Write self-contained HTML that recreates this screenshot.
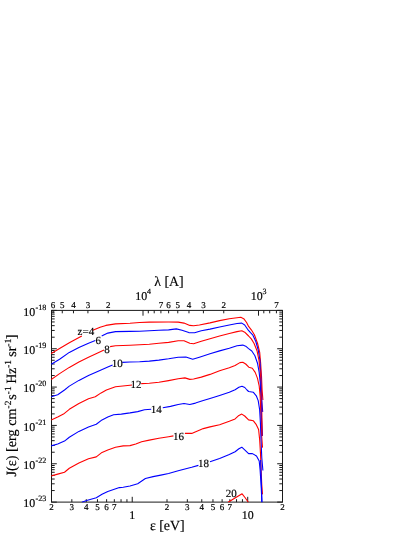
<!DOCTYPE html>
<html><head><meta charset="utf-8"><title>J(eps) spectrum</title>
<style>html,body{margin:0;padding:0;background:#fff;}body{width:415px;height:537px;position:relative;overflow:hidden;font-family:"Liberation Serif",serif;}</style>
</head><body>
<svg width="415" height="537" viewBox="0 0 415 537" style="position:absolute;left:0;top:0;font-family:'Liberation Serif',serif" text-rendering="geometricPrecision">
<rect x="0" y="0" width="415" height="537" fill="#fff"/>
<g stroke="#1a1a1a" stroke-width="1" fill="none" shape-rendering="auto">
<rect x="51.5" y="310.4" width="231.0" height="191.7"/>
<path d="M51.50,502.1v-2.9M71.84,502.1v-2.9M86.27,502.1v-2.9M97.46,502.1v-2.9M106.61,502.1v-2.9M114.34,502.1v-2.9M121.04,502.1v-2.9M126.95,502.1v-2.9M132.23,502.1v-5.3M167.00,502.1v-2.9M187.34,502.1v-2.9M201.77,502.1v-2.9M212.96,502.1v-2.9M222.11,502.1v-2.9M229.84,502.1v-2.9M236.54,502.1v-2.9M242.45,502.1v-2.9M247.73,502.1v-5.3M282.50,502.1v-2.9M276.41,310.4v2.9M269.71,310.4v2.9M263.80,310.4v2.9M258.51,310.4v5.3M223.75,310.4v2.9M203.41,310.4v2.9M188.98,310.4v2.9M177.78,310.4v2.9M168.64,310.4v2.9M160.91,310.4v2.9M154.21,310.4v2.9M148.30,310.4v2.9M143.01,310.4v5.3M108.25,310.4v2.9M87.91,310.4v2.9M73.48,310.4v2.9M62.28,310.4v2.9M53.14,310.4v2.9M51.5,502.10h5.3M282.5,502.10h-5.3M51.5,490.56h3.2M282.5,490.56h-3.2M51.5,483.81h3.2M282.5,483.81h-3.2M51.5,479.02h3.2M282.5,479.02h-3.2M51.5,475.30h3.2M282.5,475.30h-3.2M51.5,472.27h3.2M282.5,472.27h-3.2M51.5,469.70h3.2M282.5,469.70h-3.2M51.5,467.48h3.2M282.5,467.48h-3.2M51.5,465.51h3.2M282.5,465.51h-3.2M51.5,463.76h5.3M282.5,463.76h-5.3M51.5,452.22h3.2M282.5,452.22h-3.2M51.5,445.47h3.2M282.5,445.47h-3.2M51.5,440.68h3.2M282.5,440.68h-3.2M51.5,436.96h3.2M282.5,436.96h-3.2M51.5,433.93h3.2M282.5,433.93h-3.2M51.5,431.36h3.2M282.5,431.36h-3.2M51.5,429.14h3.2M282.5,429.14h-3.2M51.5,427.17h3.2M282.5,427.17h-3.2M51.5,425.42h5.3M282.5,425.42h-5.3M51.5,413.88h3.2M282.5,413.88h-3.2M51.5,407.13h3.2M282.5,407.13h-3.2M51.5,402.34h3.2M282.5,402.34h-3.2M51.5,398.62h3.2M282.5,398.62h-3.2M51.5,395.59h3.2M282.5,395.59h-3.2M51.5,393.02h3.2M282.5,393.02h-3.2M51.5,390.80h3.2M282.5,390.80h-3.2M51.5,388.83h3.2M282.5,388.83h-3.2M51.5,387.08h5.3M282.5,387.08h-5.3M51.5,375.54h3.2M282.5,375.54h-3.2M51.5,368.79h3.2M282.5,368.79h-3.2M51.5,364.00h3.2M282.5,364.00h-3.2M51.5,360.28h3.2M282.5,360.28h-3.2M51.5,357.25h3.2M282.5,357.25h-3.2M51.5,354.68h3.2M282.5,354.68h-3.2M51.5,352.46h3.2M282.5,352.46h-3.2M51.5,350.49h3.2M282.5,350.49h-3.2M51.5,348.74h5.3M282.5,348.74h-5.3M51.5,337.20h3.2M282.5,337.20h-3.2M51.5,330.45h3.2M282.5,330.45h-3.2M51.5,325.66h3.2M282.5,325.66h-3.2M51.5,321.94h3.2M282.5,321.94h-3.2M51.5,318.91h3.2M282.5,318.91h-3.2M51.5,316.34h3.2M282.5,316.34h-3.2M51.5,314.12h3.2M282.5,314.12h-3.2M51.5,312.15h3.2M282.5,312.15h-3.2M51.5,310.40h5.3M282.5,310.40h-5.3" stroke-width="1"/>
</g>
<clipPath id="c"><rect x="51.0" y="309.9" width="232.0" height="192.70000000000005"/></clipPath>
<g clip-path="url(#c)" fill="none" stroke-width="1.1" stroke-linejoin="round" stroke-linecap="butt">
<path d="M51.2,353.6 L59.6,348.5 L69.3,342.8 L81.8,336.0" stroke="#ff0000"/>
<path d="M92.8,330.2 L100.1,327.3 L105.9,325.4 L115.5,323.9 L130.0,323.3 L139.6,322.5 L149.3,322.1 L168.6,322.0 L178.2,322.1 L184.0,323.1 L189.8,325.4 L193.6,325.8 L199.4,325.0 L210.0,322.9 L219.6,320.6 L229.3,318.7 L237.0,317.7 L240.8,317.3 L243.7,318.7 L246.6,322.5 L248.6,326.4 L251.3,329.8 L254.4,334.8 L257.6,343.5 L259.7,352.3 L260.7,363.7 L261.5,376.0 L262.1,390.0 L262.9,400.0" stroke="#ff0000"/>
<path d="M51.2,364.3 L59.6,359.2 L69.3,352.4 L78.9,347.6 L88.5,343.2 L95.3,340.5" stroke="#0000ff"/>
<path d="M101.7,336.0 L107.8,333.1 L115.5,331.6 L130.0,331.4 L139.6,331.2 L149.3,330.8 L158.9,330.2 L168.6,329.9 L176.3,328.9 L182.0,330.2 L188.8,332.6 L194.6,332.7 L201.3,330.8 L210.0,329.1 L219.6,327.0 L229.3,325.0 L237.0,323.5 L241.8,323.1 L244.7,325.0 L247.6,329.3 L250.5,332.7 L252.9,335.2 L255.8,341.5 L258.3,350.3 L259.8,359.5 L260.6,371.0 L261.2,385.0 L261.8,400.0 L262.7,412.0" stroke="#0000ff"/>
<path d="M51.2,379.6 L59.6,373.6 L69.3,367.4 L78.9,362.0 L88.5,357.2 L98.2,352.8 L104.0,350.1" stroke="#ff0000"/>
<path d="M110.1,346.6 L115.5,345.7 L130.0,345.2 L139.6,344.7 L149.3,344.3 L158.9,343.2 L168.6,342.4 L178.2,340.8 L184.0,340.8 L189.8,343.3 L193.6,343.7 L201.3,341.2 L210.0,338.7 L219.6,336.0 L229.3,333.5 L237.0,331.6 L241.8,330.8 L244.7,332.2 L248.6,336.0 L251.3,338.9 L254.1,343.5 L257.0,350.7 L259.0,360.5 L260.2,371.7 L260.9,384.0 L261.5,400.0 L262.0,420.0 L262.5,436.0" stroke="#ff0000"/>
<path d="M51.2,396.7 L57.7,394.8 L64.5,390.0 L69.3,386.1 L78.9,380.4 L88.5,375.5 L98.2,371.3 L107.8,366.9 L112.6,364.9" stroke="#0000ff"/>
<path d="M122.3,362.4 L130.0,362.0 L139.6,361.7 L149.3,361.1 L158.9,360.1 L168.6,358.8 L178.2,357.2 L185.9,357.0 L192.7,359.3 L199.4,357.2 L210.0,353.7 L219.6,350.9 L229.3,348.2 L237.0,345.7 L242.8,345.1 L245.7,346.2 L248.6,348.6 L251.8,351.0 L254.9,355.7 L257.5,363.2 L259.1,371.9 L260.2,382.0 L260.8,395.0 L261.4,415.0 L262.0,436.0" stroke="#0000ff"/>
<path d="M51.2,419.9 L57.7,417.0 L63.5,414.1 L69.3,409.3 L78.9,403.5 L88.5,398.7 L95.3,396.7 L101.1,392.9 L106.4,390.0 L115.5,386.7 L130.0,385.2 L132.0,385.0" stroke="#ff0000"/>
<path d="M141.2,383.6 L149.3,383.3 L158.9,382.3 L168.6,380.6 L178.2,378.8 L184.9,377.9 L189.8,379.4 L193.6,379.0 L201.3,377.1 L210.0,374.4 L219.6,370.7 L229.3,367.8 L235.1,365.5 L239.9,362.6 L242.8,362.2 L245.7,364.0 L248.8,367.2 L252.3,368.2 L255.2,372.4 L257.5,378.4 L259.2,386.0 L260.2,397.0 L260.9,415.0 L261.6,435.0 L262.5,447.6" stroke="#ff0000"/>
<path d="M51.2,445.9 L57.7,444.0 L64.5,441.1 L69.3,437.2 L78.9,431.4 L88.5,427.0 L96.3,424.3 L102.0,419.9 L107.8,417.0 L113.6,414.7 L121.3,414.1 L130.0,412.9 L137.7,411.6 L144.5,409.7 L151.2,409.3" stroke="#0000ff"/>
<path d="M162.8,407.7 L170.5,406.4 L178.2,404.5 L184.0,403.5 L189.8,404.5 L195.5,403.1 L203.3,400.6 L210.0,398.4 L219.6,395.4 L229.3,392.3 L235.1,389.7 L238.9,387.3 L242.0,386.3 L244.8,387.5 L247.0,390.0 L248.6,391.5 L253.4,392.3 L256.3,395.8 L258.2,400.6 L259.6,409.3 L260.4,422.8 L261.0,440.0 L261.8,458.0 L262.9,470.5" stroke="#0000ff"/>
<path d="M51.2,476.0 L57.7,474.1 L64.5,472.2 L69.3,468.3 L78.9,463.1 L88.5,458.8 L96.3,456.9 L102.0,452.4 L107.8,450.0 L115.5,447.2 L123.2,445.9 L130.0,445.6 L135.8,444.0 L141.6,441.7 L149.3,440.1 L158.9,438.2 L168.6,436.7 L173.4,435.9" stroke="#ff0000"/>
<path d="M184.9,433.4 L191.7,433.4 L197.5,430.9 L203.3,428.6 L210.0,426.9 L219.6,424.7 L229.3,421.2 L235.1,418.9 L238.9,415.4 L241.8,414.1 L244.7,416.0 L248.6,419.9 L253.4,420.8 L256.3,424.7 L258.6,429.5 L259.7,440.1 L260.5,453.6 L261.1,470.0 L261.8,485.0 L262.5,494.4" stroke="#ff0000"/>
<path d="M81.8,502.2 L86.6,500.5 L96.3,497.8 L102.0,494.3 L107.8,491.4 L113.6,489.5 L119.4,487.6 L123.2,487.2 L130.0,486.0 L137.7,483.7 L145.4,478.5 L153.1,476.6 L160.8,475.1 L168.6,473.5 L178.2,470.8 L185.9,468.7 L191.7,467.3 L198.4,465.4" stroke="#0000ff"/>
<path d="M210.0,461.7 L219.6,458.4 L229.3,454.6 L235.1,451.7 L238.9,448.8 L241.8,447.2 L244.7,449.8 L248.6,453.6 L252.4,453.6 L256.5,456.0 L259.2,461.0 L260.1,470.0 L261.2,487.0 L261.9,502.2" stroke="#0000ff"/>
<path d="M228.1,502.2 L235.0,498.0 L242.1,493.8 L245.0,497.5 L248.3,502.2" stroke="#ff0000"/>
<path d="M260.6,460.0 L261.3,480.0 L261.9,502.2" stroke="#0000ff"/>
</g>
<mask id="tm" maskUnits="userSpaceOnUse" x="0" y="0" width="415" height="537"><rect x="0" y="0" width="415" height="537" fill="#fff"/></mask>
<g fill="#000" stroke="#000" stroke-width="0.18" mask="url(#tm)">
<text x="51.5" y="510" font-size="9.0" text-anchor="middle">2</text>
<text x="71.8" y="510" font-size="9.0" text-anchor="middle">3</text>
<text x="86.3" y="510" font-size="9.0" text-anchor="middle">4</text>
<text x="97.5" y="510" font-size="9.0" text-anchor="middle">5</text>
<text x="106.6" y="510" font-size="9.0" text-anchor="middle">6</text>
<text x="114.3" y="510" font-size="9.0" text-anchor="middle">7</text>
<text x="167.0" y="510" font-size="9.0" text-anchor="middle">2</text>
<text x="187.3" y="510" font-size="9.0" text-anchor="middle">3</text>
<text x="201.8" y="510" font-size="9.0" text-anchor="middle">4</text>
<text x="213.0" y="510" font-size="9.0" text-anchor="middle">5</text>
<text x="222.1" y="510" font-size="9.0" text-anchor="middle">6</text>
<text x="229.8" y="510" font-size="9.0" text-anchor="middle">7</text>
<text x="282.5" y="510" font-size="9.0" text-anchor="middle">2</text>
<text x="132.2" y="519.4" font-size="11.9" text-anchor="middle">1</text>
<text x="247.7" y="519.4" font-size="11.9" text-anchor="middle">10</text>
<text x="53.1" y="307.6" font-size="9.0" text-anchor="middle">6</text>
<text x="62.3" y="307.6" font-size="9.0" text-anchor="middle">5</text>
<text x="73.5" y="307.6" font-size="9.0" text-anchor="middle">4</text>
<text x="87.9" y="307.6" font-size="9.0" text-anchor="middle">3</text>
<text x="108.2" y="307.6" font-size="9.0" text-anchor="middle">2</text>
<text x="160.9" y="307.6" font-size="9.0" text-anchor="middle">7</text>
<text x="168.6" y="307.6" font-size="9.0" text-anchor="middle">6</text>
<text x="177.8" y="307.6" font-size="9.0" text-anchor="middle">5</text>
<text x="189.0" y="307.6" font-size="9.0" text-anchor="middle">4</text>
<text x="203.4" y="307.6" font-size="9.0" text-anchor="middle">3</text>
<text x="223.7" y="307.6" font-size="9.0" text-anchor="middle">2</text>
<text x="276.4" y="307.6" font-size="9.0" text-anchor="middle">7</text>
<text x="135.2" y="299.9" font-size="11.9">10<tspan dy="-6.2" font-size="8">4</tspan></text>
<text x="250.7" y="299.9" font-size="11.9">10<tspan dy="-6.2" font-size="8">3</tspan></text>
<text x="23.3" y="507.4" font-size="11.9">10<tspan dy="-6.0" dx="0.3" font-size="8.1">-23</tspan></text>
<text x="23.3" y="469.1" font-size="11.9">10<tspan dy="-6.0" dx="0.3" font-size="8.1">-22</tspan></text>
<text x="23.3" y="430.7" font-size="11.9">10<tspan dy="-6.0" dx="0.3" font-size="8.1">-21</tspan></text>
<text x="23.3" y="392.4" font-size="11.9">10<tspan dy="-6.0" dx="0.3" font-size="8.1">-20</tspan></text>
<text x="23.3" y="354.0" font-size="11.9">10<tspan dy="-6.0" dx="0.3" font-size="8.1">-19</tspan></text>
<text x="23.3" y="315.7" font-size="11.9">10<tspan dy="-6.0" dx="0.3" font-size="8.1">-18</tspan></text>
<text x="154.2" y="286" font-size="13.9">λ [A]</text>
<text x="149.9" y="530" font-size="13.9">ε [eV]</text>
<text transform="translate(15.7,476.4) rotate(-90)" font-size="14.2">J(ε) [erg cm<tspan dy="-5.2" font-size="9.4">-2</tspan><tspan dy="5.2" dx="-2.6"> s</tspan><tspan dy="-5.2" font-size="9.4">-1</tspan><tspan dy="5.2" dx="-0.6"> </tspan><tspan textLength="15.6" lengthAdjust="spacingAndGlyphs">Hz</tspan><tspan dy="-5.2" font-size="9.4">-1</tspan><tspan dy="5.2" dx="-0.3"> sr</tspan><tspan dy="-5.2" font-size="9.4">-1</tspan><tspan dy="5.2" dx="-0.5">]</tspan></text>
<text x="77.6" y="334.9" font-size="11">z=4</text>
<text x="95.6" y="344.0" font-size="11">6</text>
<text x="104.2" y="352.9" font-size="11">8</text>
<text x="111.8" y="366.7" font-size="11">10</text>
<text x="130.6" y="388.0" font-size="11">12</text>
<text x="150.7" y="413.2" font-size="11">14</text>
<text x="172.9" y="439.7" font-size="11">16</text>
<text x="198.1" y="466.8" font-size="11">18</text>
<text x="225.7" y="496.6" font-size="11">20</text>
</g>
</svg>
</body></html>
